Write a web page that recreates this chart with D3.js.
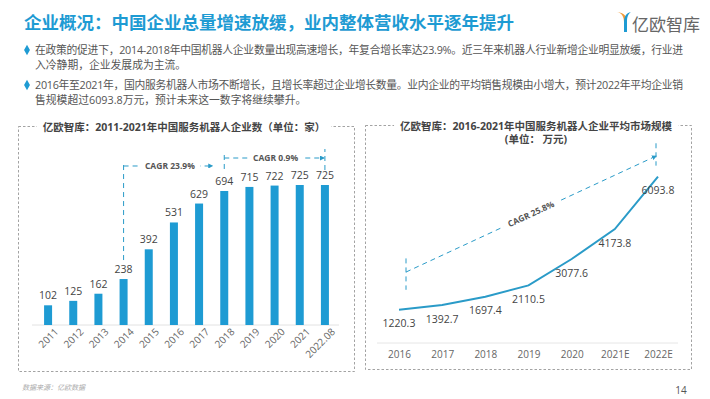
<!DOCTYPE html>
<html>
<head>
<meta charset="utf-8">
<script src="https://cdn.jsdelivr.net/npm/d3@7"></script>
<style>
  html, body { margin: 0; padding: 0; background: #fff; }
  svg text { font-family: "Open Sans", "Noto Sans CJK SC", sans-serif; }
</style>
</head>
<body>
<svg id="slide" width="710" height="399"></svg>
<script>
// left chart: company count
var barYears = ["2011", "2012", "2013", "2014", "2015", "2016", "2017", "2018", "2019", "2020", "2021", "2022.08"];
var barValues = [102, 125, 162, 238, 392, 531, 629, 694, 715, 722, 725, 725];

// right chart: average market size
var lineYears = ["2016", "2017", "2018", "2019", "2020", "2021E", "2022E"];
var lineValues = [1220.3, 1392.7, 1697.4, 2110.5, 3077.6, 4173.8, 6093.8];

var bullets = [
  ["在政策的促进下，2014-2018年中国机器人企业数量出现高速增长，年复合增长率达23.9%。近三年来机器人行业新增企业明显放缓，行业进",
   "入冷静期，企业发展成为主流。"],
  ["2016年至2021年，国内服务机器人市场不断增长，且增长率超过企业增长数量。业内企业的平均销售规模由小增大，预计2022年平均企业销",
   "售规模超过6093.8万元，预计未来这一数字将继续攀升。"]
];

var blue = "#1e9bd3",
    teal = "#2a9bc8",
    textGray = "#555",
    svg = d3.select("#slide");

var defs = svg.append("defs");
defs.append("marker")
    .attr("id", "arrow")
    .attr("viewBox", "0 0 10 10")
    .attr("refX", 8).attr("refY", 5)
    .attr("markerWidth", 5).attr("markerHeight", 5)
    .attr("orient", "auto")
    .append("path")
    .attr("d", "M0,0 L10,5 L0,10 z")
    .attr("fill", teal);

// header
svg.append("text")
    .attr("x", 24).attr("y", 29)
    .attr("font-size", 17.5)
    .attr("font-weight", "bold")
    .attr("fill", blue)
    .text("企业概况：中国企业总量增速放缓，业内整体营收水平逐年提升");

// logo
var logo = svg.append("g").attr("transform", "translate(617,12)");
logo.append("path").attr("d", "M0,0 C5,1 7,5 7,10 L7,20 L10,20 L10,10 C10,5 8,1 0,0 z").attr("fill", "#f29b38");
logo.append("path").attr("d", "M14,0 C9,1 7,5 7,10 L7,20 L10,20 L10,10 C10,5 11,2 14,0 z").attr("fill", "#1e9bd3");
svg.append("text")
    .attr("x", 632).attr("y", 31)
    .attr("font-size", 17)
    .attr("fill", "#666")
    .text("亿欧智库");

// bullets
var bulletY = [54, 89];
bullets.forEach(function(lines, i) {
    svg.append("path")
        .attr("d", d3.symbol().type(d3.symbolDiamond).size(30)())
        .attr("transform", "translate(27," + (bulletY[i] - 4) + ") scale(1,1.05)")
        .attr("fill", blue);
    lines.forEach(function(l, j) {
        var t = svg.append("text")
            .attr("x", 35).attr("y", bulletY[i] + j * 15)
            .attr("font-size", 10.8)
            .attr("fill", textGray)
            .text(l);
        if (j === 0) t.attr("textLength", 648).attr("lengthAdjust", "spacing");
    });
});

// text with a white patch behind it (breaks dashed lines)
function maskedText(g, x, y, s, opts) {
    var bg = g.append("rect").attr("fill", "#fff");
    var t = g.append("text")
        .attr("x", x).attr("y", y)
        .attr("text-anchor", "middle")
        .attr("font-size", opts.size)
        .attr("font-weight", "bold")
        .attr("fill", opts.color)
        .text(s);
    if (opts.dy) t.attr("dy", opts.dy);
    var bb = t.node().getBBox();
    bg.attr("x", bb.x - opts.pad).attr("y", bb.y).attr("width", bb.width + opts.pad * 2).attr("height", bb.height);
    if (opts.rot) {
        var tr = "rotate(" + opts.rot + "," + x + "," + y + ")";
        t.attr("transform", tr);
        bg.attr("transform", tr);
    }
    return t;
}

// chart frames
function frame(x, y, w, h, titleLines, cx) {
    svg.append("rect")
        .attr("x", x).attr("y", y).attr("width", w).attr("height", h)
        .attr("fill", "none")
        .attr("stroke", "#999")
        .attr("stroke-width", 0.9)
        .attr("stroke-dasharray", "2.5,2");
    titleLines.forEach(function(s, i) {
        maskedText(svg, cx, y + 4 + i * 13, s, {size: 10.5, color: "#444", pad: i === 0 ? 6 : 0});
    });
}
frame(18.5, 126.5, 336, 245, ["亿欧智库：2011-2021年中国服务机器人企业数（单位：家）"], 184);
frame(365.5, 125.5, 326, 244, ["亿欧智库：2016-2021年中国服务机器人企业平均市场规模", "(单位： 万元)"], 536);

// ---- left bar chart
var xL = d3.scalePoint().domain(barYears).range([35.5, 337.5]).padding(0.5),
    yL = d3.scaleLinear().domain([0, 725]).range([325, 185]),
    barW = 8;

var gL = svg.append("g");
gL.append("g")
    .attr("transform", "translate(0,325)")
    .call(d3.axisBottom(xL).tickSize(0).tickPadding(7))
    .call(function(g) {
        g.select(".domain").attr("stroke", "#e2e2e2").attr("d", "M32,0H339");
        g.selectAll("text")
            .attr("font-size", 10)
            .attr("fill", "#666")
            .attr("text-anchor", "end")
            .attr("transform", "translate(3,0) rotate(-45)")
            .attr("dy", "0.35em");
    });

gL.selectAll("rect.bar")
    .data(barValues)
    .enter().append("rect")
    .attr("class", "bar")
    .attr("x", function(d, i) { return xL(barYears[i]) - barW / 2; })
    .attr("y", function(d) { return yL(d); })
    .attr("width", barW)
    .attr("height", function(d) { return yL(0) - yL(d); })
    .attr("fill", blue);

gL.selectAll("text.val")
    .data(barValues)
    .enter().append("text")
    .attr("class", "val")
    .attr("x", function(d, i) { return xL(barYears[i]); })
    .attr("y", function(d) { return yL(d) - 6; })
    .attr("text-anchor", "middle")
    .attr("font-size", 10.5)
    .attr("fill", "#444")
    .text(function(d) { return d; });

function dashed(g, pts, arrow) {
    var p = g.append("path")
        .attr("d", d3.line()(pts))
        .attr("fill", "none")
        .attr("stroke", teal)
        .attr("stroke-width", 1)
        .attr("stroke-dasharray", "5,4");
    if (arrow) p.attr("marker-end", "url(#arrow)");
    return p;
}
function cagrLabel(g, x, y, s, rot) {
    maskedText(g, x, y, s, {size: 8.5, color: "#555", pad: 5, dy: "0.35em", rot: rot});
}

// CAGR 23.9% (2014 -> 2018)
var x14 = xL("2014"), x18 = xL("2018"), x22 = xL("2022.08");
var yA = yL(694) - 25;
dashed(gL, [[x14, yL(238) - 19], [x14, yA - 1]]);
dashed(gL, [[x14, yA], [x18 - 12, yA]], true);
cagrLabel(gL, (x14 + x18 - 12) / 2 + 2, yA, "CAGR 23.9%");

// CAGR 0.9% (2018 -> 2022.08)
var yB = yL(725) - 27;
dashed(gL, [[x18, yL(694) - 22], [x18, yB - 5]]);
dashed(gL, [[x22, yL(725) - 15], [x22, yB - 9]]);
dashed(gL, [[x18, yB], [x22 - 1, yB]], true);
cagrLabel(gL, (x18 + x22) / 2 + 1, yB, "CAGR  0.9%");

// ---- right line chart
var xR = d3.scalePoint().domain(lineYears).range([399, 658]),
    yR = d3.scaleLinear().domain([0, 7000]).range([343, 152]);

var gR = svg.append("g");
gR.append("g")
    .attr("transform", "translate(0,343)")
    .call(d3.axisBottom(xR).tickSize(0).tickPadding(8))
    .call(function(g) {
        g.select(".domain").attr("stroke", "#e6e6e6").attr("d", "M377,0H678");
        g.selectAll("text").attr("font-size", 10).attr("fill", "#666");
    });

gR.append("path")
    .datum(lineValues)
    .attr("d", d3.line()
        .x(function(d, i) { return xR(lineYears[i]); })
        .y(function(d) { return yR(d); }))
    .attr("fill", "none")
    .attr("stroke", teal)
    .attr("stroke-width", 2);

gR.selectAll("text.val")
    .data(lineValues)
    .enter().append("text")
    .attr("class", "val")
    .attr("x", function(d, i) { return xR(lineYears[i]); })
    .attr("y", function(d) { return yR(d) + 14; })
    .attr("dy", "0.35em")
    .attr("text-anchor", "middle")
    .attr("font-size", 10.5)
    .attr("fill", "#444")
    .text(function(d) { return d.toFixed(1); });

// CAGR 25.8%
var xs = xR("2016") + 7, xe = xR("2022E") - 2,
    ys = yR(2600), ye = yR(6850);
dashed(gR, [[xs, yR(3100)], [xs, yR(1950)]]);
dashed(gR, [[xe, yR(7320)], [xe, yR(6500)]]);
dashed(gR, [[xs, ys], [xe, ye]], true);
var ang = Math.atan2(ye - ys, xe - xs) * 180 / Math.PI;
cagrLabel(gR, xs + (xe - xs) * 0.5, ys + (ye - ys) * 0.5, "CAGR 25.8%", ang);

// footer
svg.append("text")
    .attr("x", 22).attr("y", 390)
    .attr("font-size", 7)
    .attr("font-style", "italic")
    .attr("fill", "#aaa")
    .text("数据来源：亿欧数据");
svg.append("text")
    .attr("x", 681).attr("y", 394)
    .attr("text-anchor", "middle")
    .attr("font-size", 10)
    .attr("fill", "#555")
    .text("14");
</script>
</body>
</html>
